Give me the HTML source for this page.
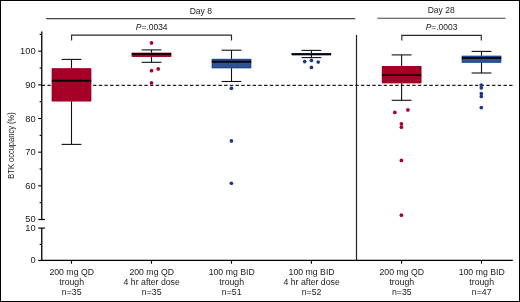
<!DOCTYPE html><html><head><meta charset="utf-8"><style>
html,body{margin:0;padding:0;background:#fff;width:520px;height:302px;overflow:hidden}
svg{display:block;will-change:transform}
text{font-family:"Liberation Sans", sans-serif;fill:#1a1a1a}
</style></head><body>
<svg width="520" height="302" viewBox="0 0 520 302">
<rect x="0" y="0" width="520" height="302" fill="#fff"/>
<rect x="0.5" y="0.5" width="519" height="301" fill="none" stroke="#000" stroke-width="1"/>
<line x1="41.75" y1="85.35" x2="512.8" y2="85.35" stroke="#222" stroke-width="1.2" stroke-dasharray="3.4 2.3"/>
<line x1="46.2" y1="18.6" x2="355.2" y2="18.6" stroke="#444" stroke-width="1.1"/>
<line x1="377.4" y1="18.2" x2="505.5" y2="18.2" stroke="#444" stroke-width="1.1"/>
<text transform="translate(200.85 13.5) scale(0.95 1)" font-size="9" text-anchor="middle">Day 8</text>
<text transform="translate(441.2 13.0) scale(0.95 1)" font-size="9" text-anchor="middle">Day 28</text>
<path d="M71.6 40.4 V35.1 H231.5 V40.4" fill="none" stroke="#2a2a2a" stroke-width="1.15"/>
<path d="M401.8 40.4 V35.3 H481.3 V40.4" fill="none" stroke="#2a2a2a" stroke-width="1.15"/>
<text transform="translate(151.7 30.1) scale(0.94 1)" font-size="9" text-anchor="middle"><tspan font-style="italic">P</tspan>=.0034</text>
<text transform="translate(441.5 29.9) scale(0.94 1)" font-size="9" text-anchor="middle"><tspan font-style="italic">P</tspan>=.0003</text>
<line x1="356.5" y1="34.9" x2="356.5" y2="260.45" stroke="#222" stroke-width="1.2"/>
<line x1="41.75" y1="31.6" x2="41.75" y2="219.5" stroke="#000" stroke-width="1.3"/>
<line x1="38.3" y1="219.5" x2="44.9" y2="219.5" stroke="#000" stroke-width="1.2"/>
<line x1="41.75" y1="228.1" x2="41.75" y2="261.1" stroke="#000" stroke-width="1.3"/>
<line x1="38.3" y1="228.1" x2="44.9" y2="228.1" stroke="#000" stroke-width="1.2"/>
<line x1="41.1" y1="260.45" x2="512.8" y2="260.45" stroke="#000" stroke-width="1.3"/>
<line x1="38.2" y1="51.20" x2="41.75" y2="51.20" stroke="#000" stroke-width="1.1"/>
<line x1="38.2" y1="84.86" x2="41.75" y2="84.86" stroke="#000" stroke-width="1.1"/>
<line x1="38.2" y1="118.52" x2="41.75" y2="118.52" stroke="#000" stroke-width="1.1"/>
<line x1="38.2" y1="152.18" x2="41.75" y2="152.18" stroke="#000" stroke-width="1.1"/>
<line x1="38.2" y1="185.84" x2="41.75" y2="185.84" stroke="#000" stroke-width="1.1"/>
<line x1="39.6" y1="34.37" x2="41.75" y2="34.37" stroke="#000" stroke-width="1.1"/>
<line x1="39.6" y1="68.03" x2="41.75" y2="68.03" stroke="#000" stroke-width="1.1"/>
<line x1="39.6" y1="101.69" x2="41.75" y2="101.69" stroke="#000" stroke-width="1.1"/>
<line x1="39.6" y1="135.35" x2="41.75" y2="135.35" stroke="#000" stroke-width="1.1"/>
<line x1="39.6" y1="169.01" x2="41.75" y2="169.01" stroke="#000" stroke-width="1.1"/>
<line x1="39.6" y1="202.67" x2="41.75" y2="202.67" stroke="#000" stroke-width="1.1"/>
<line x1="38.2" y1="260.45" x2="41.75" y2="260.45" stroke="#000" stroke-width="1.2"/>
<line x1="39.6" y1="244.4" x2="41.75" y2="244.4" stroke="#000" stroke-width="1.1"/>
<text x="35.6" y="51.20" font-size="9.3" text-anchor="end" dominant-baseline="central">100</text>
<text x="35.6" y="84.86" font-size="9.3" text-anchor="end" dominant-baseline="central">90</text>
<text x="35.6" y="118.52" font-size="9.3" text-anchor="end" dominant-baseline="central">80</text>
<text x="35.6" y="152.18" font-size="9.3" text-anchor="end" dominant-baseline="central">70</text>
<text x="35.6" y="185.84" font-size="9.3" text-anchor="end" dominant-baseline="central">60</text>
<text x="35.6" y="219.20" font-size="9.3" text-anchor="end" dominant-baseline="central">50</text>
<text x="35.6" y="227.9" font-size="9.3" text-anchor="end" dominant-baseline="central">10</text>
<text x="35.6" y="260.2" font-size="9.3" text-anchor="end" dominant-baseline="central">0</text>
<text transform="translate(14.35 145.5) rotate(-90) scale(0.835 1)" font-size="9" text-anchor="middle">BTK occupancy (%)</text>
<line x1="71.50" y1="260.45" x2="71.50" y2="263.7" stroke="#000" stroke-width="1.1"/>
<line x1="151.50" y1="260.45" x2="151.50" y2="263.7" stroke="#000" stroke-width="1.1"/>
<line x1="231.50" y1="260.45" x2="231.50" y2="263.7" stroke="#000" stroke-width="1.1"/>
<line x1="311.40" y1="260.45" x2="311.40" y2="263.7" stroke="#000" stroke-width="1.1"/>
<line x1="401.60" y1="260.45" x2="401.60" y2="263.7" stroke="#000" stroke-width="1.1"/>
<line x1="481.50" y1="260.45" x2="481.50" y2="263.7" stroke="#000" stroke-width="1.1"/>
<line x1="71.50" y1="59.40" x2="71.50" y2="68.40" stroke="#111" stroke-width="1.1"/>
<line x1="71.50" y1="101.30" x2="71.50" y2="144.40" stroke="#111" stroke-width="1.1"/>
<line x1="61.60" y1="59.40" x2="81.40" y2="59.40" stroke="#111" stroke-width="1.1"/>
<line x1="61.60" y1="144.40" x2="81.40" y2="144.40" stroke="#111" stroke-width="1.1"/>
<rect x="51.80" y="68.40" width="39.40" height="32.90" fill="#a60028"/>
<rect x="52.15" y="68.75" width="38.70" height="32.20" fill="none" stroke="#96001f" stroke-width="0.7"/>
<line x1="51.80" y1="80.80" x2="91.20" y2="80.80" stroke="#000" stroke-width="1.9" opacity="0.9"/>
<line x1="151.50" y1="49.90" x2="151.50" y2="52.80" stroke="#111" stroke-width="1.1"/>
<line x1="151.50" y1="56.80" x2="151.50" y2="62.30" stroke="#111" stroke-width="1.1"/>
<line x1="141.60" y1="49.90" x2="161.40" y2="49.90" stroke="#111" stroke-width="1.1"/>
<line x1="141.60" y1="62.30" x2="161.40" y2="62.30" stroke="#111" stroke-width="1.1"/>
<rect x="131.80" y="52.80" width="39.40" height="4.00" fill="#a60028"/>
<rect x="132.15" y="53.15" width="38.70" height="3.30" fill="none" stroke="#96001f" stroke-width="0.7"/>
<line x1="131.80" y1="54.00" x2="171.20" y2="54.00" stroke="#000" stroke-width="1.9" opacity="0.9"/>
<circle cx="151.50" cy="42.90" r="1.85" fill="#a8002a"/>
<circle cx="151.50" cy="70.70" r="1.85" fill="#a8002a"/>
<circle cx="158.20" cy="68.90" r="1.85" fill="#a8002a"/>
<circle cx="151.50" cy="82.90" r="1.85" fill="#a8002a"/>
<line x1="231.50" y1="50.20" x2="231.50" y2="58.90" stroke="#111" stroke-width="1.1"/>
<line x1="231.50" y1="68.20" x2="231.50" y2="81.50" stroke="#111" stroke-width="1.1"/>
<line x1="221.60" y1="50.20" x2="241.40" y2="50.20" stroke="#111" stroke-width="1.1"/>
<line x1="221.60" y1="81.50" x2="241.40" y2="81.50" stroke="#111" stroke-width="1.1"/>
<rect x="211.80" y="58.90" width="39.40" height="9.30" fill="#2e5292"/>
<rect x="212.15" y="59.25" width="38.70" height="8.60" fill="none" stroke="#1c3f88" stroke-width="0.7"/>
<line x1="211.80" y1="61.80" x2="251.20" y2="61.80" stroke="#000" stroke-width="1.9" opacity="0.9"/>
<circle cx="231.40" cy="88.30" r="1.85" fill="#1b3a82"/>
<circle cx="231.40" cy="140.90" r="1.85" fill="#1b3a82"/>
<circle cx="231.40" cy="183.25" r="1.85" fill="#1b3a82"/>
<line x1="311.40" y1="50.40" x2="311.40" y2="53.30" stroke="#111" stroke-width="1.1"/>
<line x1="311.40" y1="55.10" x2="311.40" y2="57.60" stroke="#111" stroke-width="1.1"/>
<line x1="301.50" y1="50.40" x2="321.30" y2="50.40" stroke="#111" stroke-width="1.1"/>
<line x1="301.50" y1="57.60" x2="321.30" y2="57.60" stroke="#111" stroke-width="1.1"/>
<rect x="291.70" y="53.30" width="39.40" height="1.80" fill="#2e5292"/>
<rect x="292.05" y="53.65" width="38.70" height="1.10" fill="none" stroke="#1c3f88" stroke-width="0.7"/>
<line x1="291.70" y1="54.20" x2="331.10" y2="54.20" stroke="#000" stroke-width="1.9" opacity="0.9"/>
<circle cx="304.70" cy="61.60" r="1.85" fill="#1b3a82"/>
<circle cx="311.40" cy="60.40" r="1.85" fill="#1b3a82"/>
<circle cx="318.20" cy="62.00" r="1.85" fill="#1b3a82"/>
<circle cx="311.40" cy="67.40" r="1.85" fill="#1b3a82"/>
<line x1="401.60" y1="54.90" x2="401.60" y2="66.00" stroke="#111" stroke-width="1.1"/>
<line x1="401.60" y1="83.20" x2="401.60" y2="100.30" stroke="#111" stroke-width="1.1"/>
<line x1="391.70" y1="54.90" x2="411.50" y2="54.90" stroke="#111" stroke-width="1.1"/>
<line x1="391.70" y1="100.30" x2="411.50" y2="100.30" stroke="#111" stroke-width="1.1"/>
<rect x="381.90" y="66.00" width="39.40" height="17.20" fill="#a60028"/>
<rect x="382.25" y="66.35" width="38.70" height="16.50" fill="none" stroke="#96001f" stroke-width="0.7"/>
<line x1="381.90" y1="75.10" x2="421.30" y2="75.10" stroke="#000" stroke-width="1.9" opacity="0.9"/>
<circle cx="394.80" cy="112.40" r="1.85" fill="#a8002a"/>
<circle cx="407.90" cy="109.90" r="1.85" fill="#a8002a"/>
<circle cx="401.40" cy="123.80" r="1.85" fill="#a8002a"/>
<circle cx="401.40" cy="127.20" r="1.85" fill="#a8002a"/>
<circle cx="401.40" cy="160.40" r="1.85" fill="#a8002a"/>
<circle cx="401.40" cy="215.20" r="1.85" fill="#a8002a"/>
<line x1="481.50" y1="51.40" x2="481.50" y2="55.80" stroke="#111" stroke-width="1.1"/>
<line x1="481.50" y1="62.60" x2="481.50" y2="73.00" stroke="#111" stroke-width="1.1"/>
<line x1="471.60" y1="51.40" x2="491.40" y2="51.40" stroke="#111" stroke-width="1.1"/>
<line x1="471.60" y1="73.00" x2="491.40" y2="73.00" stroke="#111" stroke-width="1.1"/>
<rect x="461.80" y="55.80" width="39.40" height="6.80" fill="#2e5292"/>
<rect x="462.15" y="56.15" width="38.70" height="6.10" fill="none" stroke="#1c3f88" stroke-width="0.7"/>
<line x1="461.80" y1="58.00" x2="501.20" y2="58.00" stroke="#000" stroke-width="1.9" opacity="0.9"/>
<circle cx="481.30" cy="85.10" r="1.85" fill="#1b3a82"/>
<circle cx="481.30" cy="87.80" r="1.85" fill="#1b3a82"/>
<circle cx="481.30" cy="93.50" r="1.85" fill="#1b3a82"/>
<circle cx="481.30" cy="96.40" r="1.85" fill="#1b3a82"/>
<circle cx="481.30" cy="107.60" r="1.85" fill="#1b3a82"/>
<text transform="translate(71.70 274.60) scale(0.97 1)" font-size="9" text-anchor="middle">200 mg QD</text>
<text transform="translate(71.70 284.60) scale(0.97 1)" font-size="9" text-anchor="middle">trough</text>
<text transform="translate(71.70 294.60) scale(0.97 1)" font-size="9" text-anchor="middle">n=35</text>
<text transform="translate(151.70 274.60) scale(0.97 1)" font-size="9" text-anchor="middle">200 mg QD</text>
<text transform="translate(151.70 284.60) scale(0.97 1)" font-size="9" text-anchor="middle">4 hr after dose</text>
<text transform="translate(151.70 294.60) scale(0.97 1)" font-size="9" text-anchor="middle">n=35</text>
<text transform="translate(231.70 274.60) scale(0.97 1)" font-size="9" text-anchor="middle">100 mg BID</text>
<text transform="translate(231.70 284.60) scale(0.97 1)" font-size="9" text-anchor="middle">trough</text>
<text transform="translate(231.70 294.60) scale(0.97 1)" font-size="9" text-anchor="middle">n=51</text>
<text transform="translate(311.60 274.60) scale(0.97 1)" font-size="9" text-anchor="middle">100 mg BID</text>
<text transform="translate(311.60 284.60) scale(0.97 1)" font-size="9" text-anchor="middle">4 hr after dose</text>
<text transform="translate(311.60 294.60) scale(0.97 1)" font-size="9" text-anchor="middle">n=52</text>
<text transform="translate(401.80 274.60) scale(0.97 1)" font-size="9" text-anchor="middle">200 mg QD</text>
<text transform="translate(401.80 284.60) scale(0.97 1)" font-size="9" text-anchor="middle">trough</text>
<text transform="translate(401.80 294.60) scale(0.97 1)" font-size="9" text-anchor="middle">n=35</text>
<text transform="translate(481.70 274.60) scale(0.97 1)" font-size="9" text-anchor="middle">100 mg BID</text>
<text transform="translate(481.70 284.60) scale(0.97 1)" font-size="9" text-anchor="middle">trough</text>
<text transform="translate(481.70 294.60) scale(0.97 1)" font-size="9" text-anchor="middle">n=47</text>
</svg></body></html>
